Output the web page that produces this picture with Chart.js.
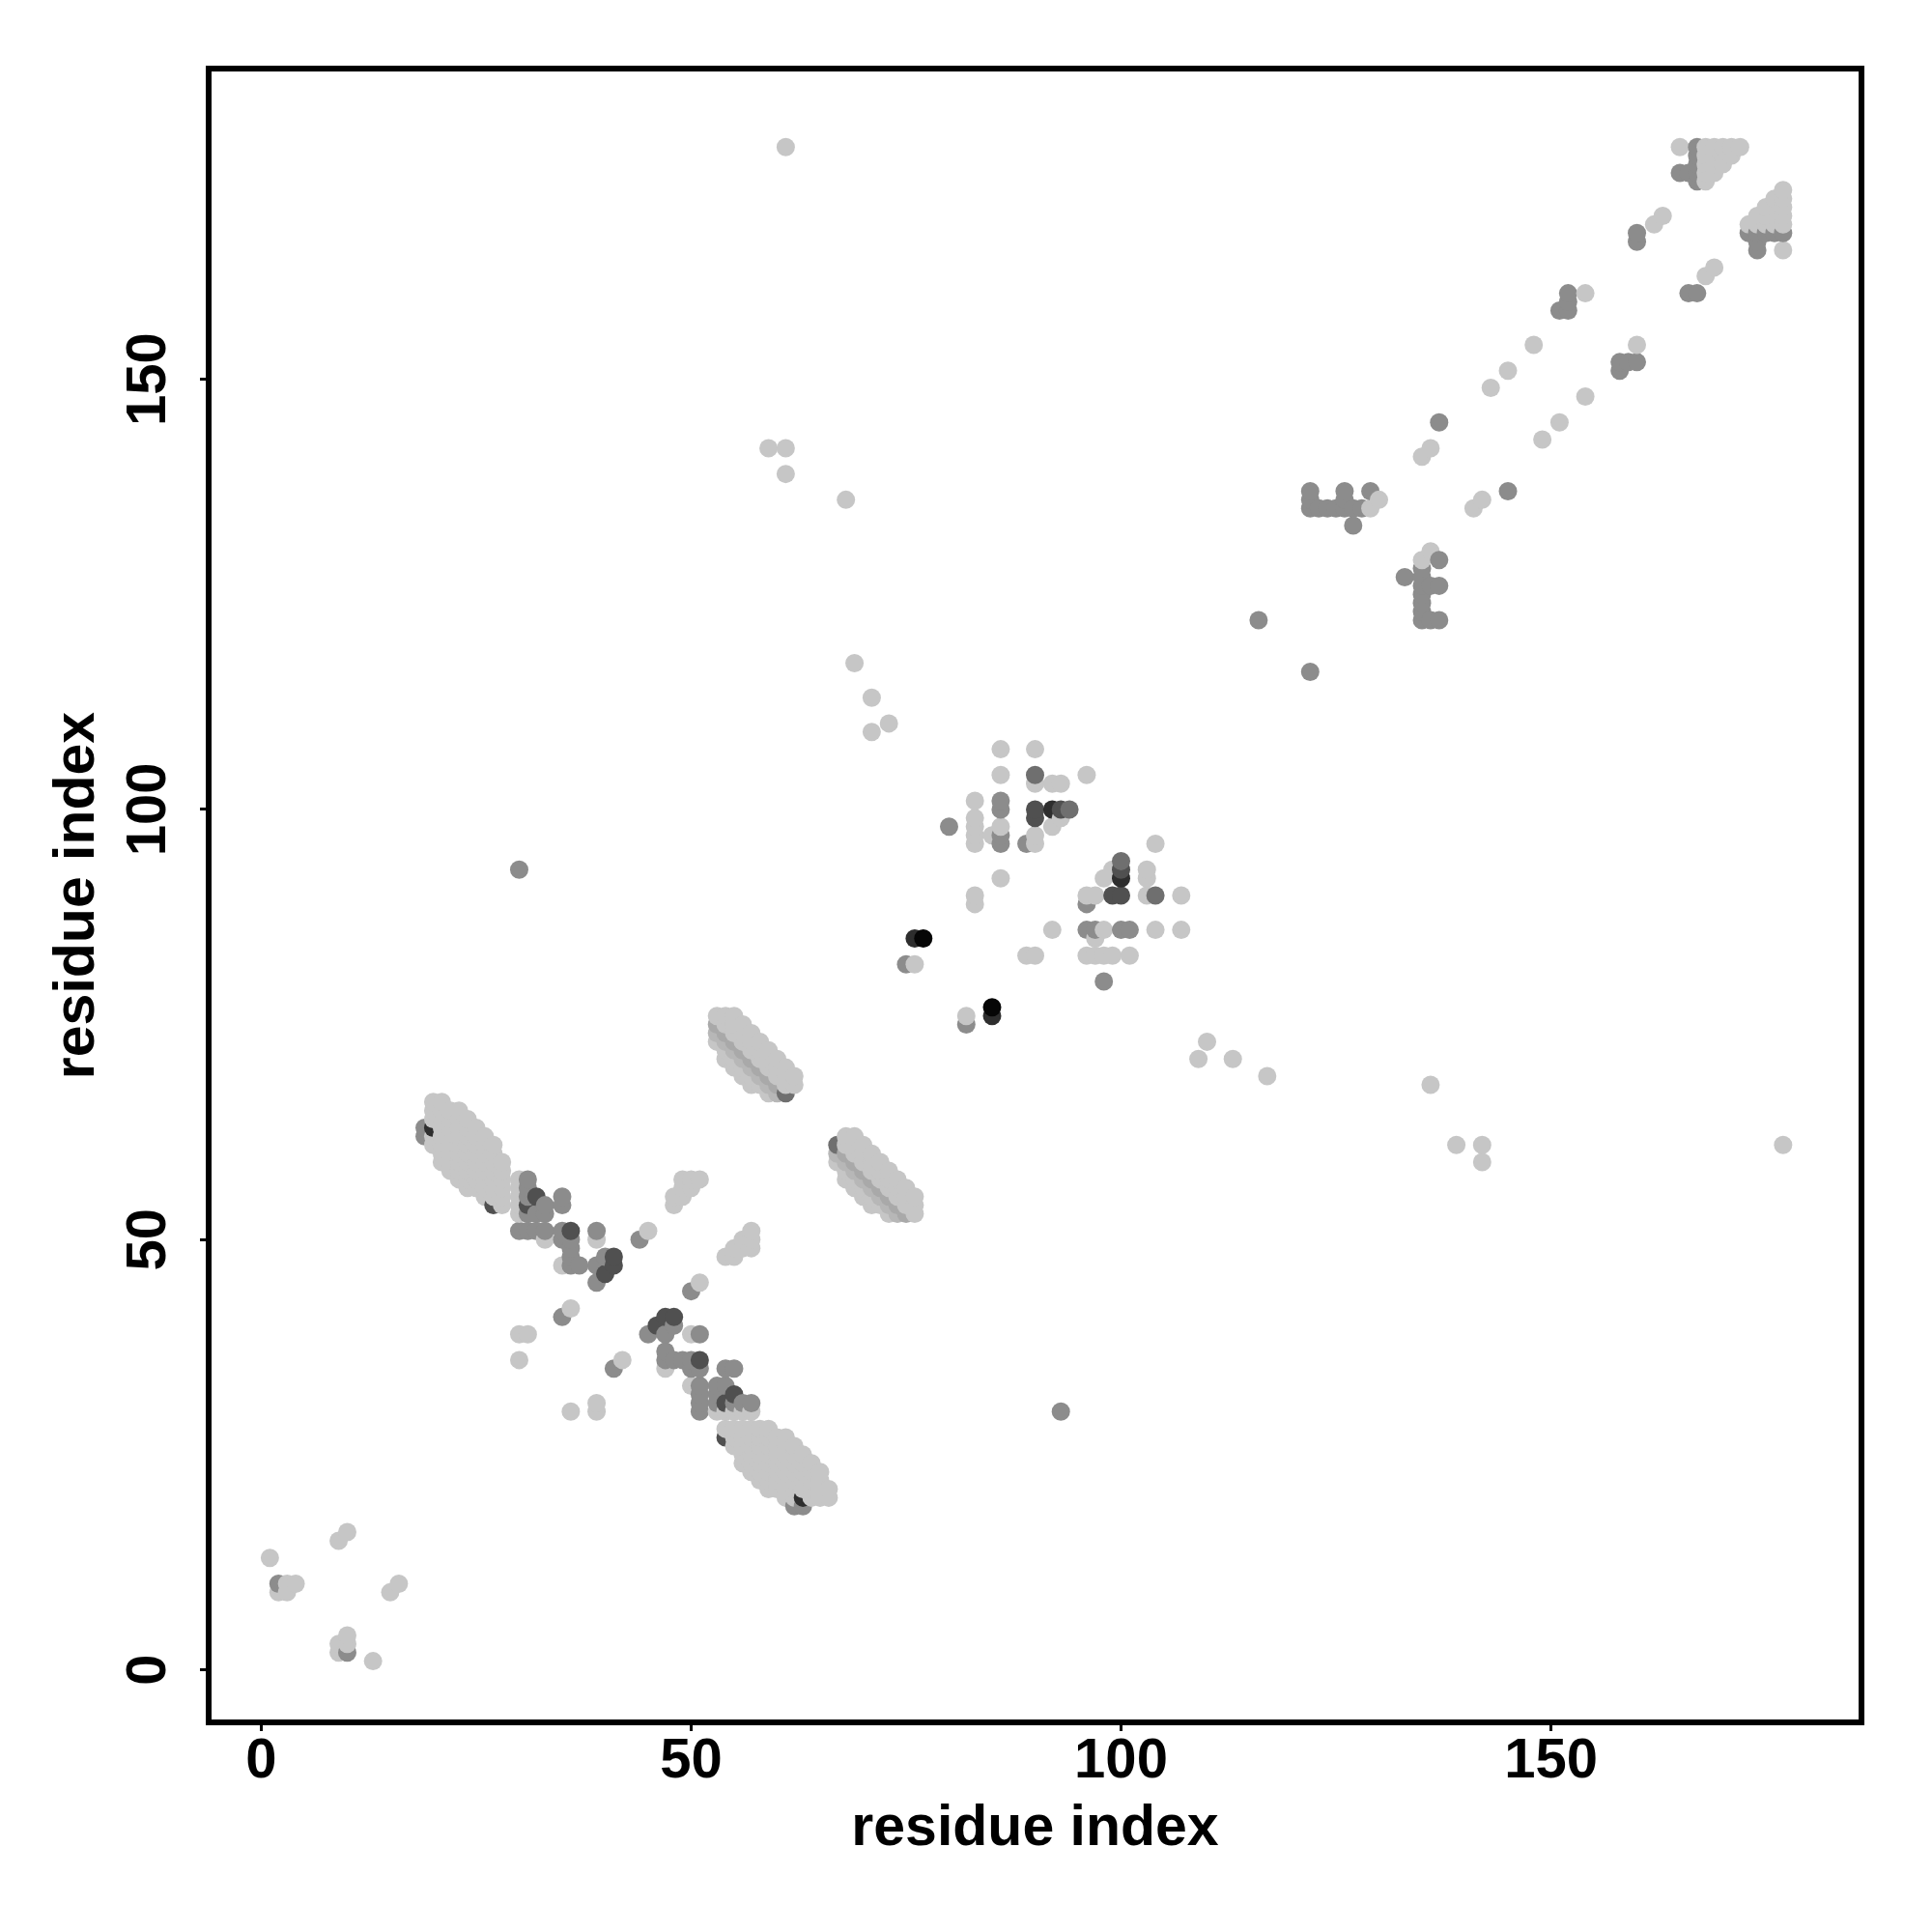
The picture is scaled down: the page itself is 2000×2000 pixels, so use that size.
<!DOCTYPE html>
<html>
<head>
<meta charset="utf-8">
<script src="https://cdn.jsdelivr.net/npm/chart.js@4.4.1/dist/chart.umd.min.js"></script>
<style>
  html, body { margin: 0; padding: 0; background: #fff; }
  canvas { display: block; }
</style>
</head>
<body>
<canvas id="contactMap" width="2000" height="2000"></canvas>
<script>
// axis ticks
const xTicks = [0, 50, 100, 150];
const yTicks = [0, 50, 100, 150];
const axisTitle = 'residue index';

// contacts, listed once as [i, j] with i < j (the map is symmetric)
const lightContacts = [
  [1, 13], [3, 10], [4, 10], [2, 9], [3, 9], [9, 15], [10, 16],
  [30, 36], [30, 39], [31, 39], [36, 42], [45, 51], [33, 50], [35, 47], [39, 50],
  [30, 53], [30, 54], [30, 55], [30, 56], [30, 57],
  [48, 54], [48, 55], [49, 55], [49, 56], [50, 56], [49, 57], [50, 57], [51, 57],
  [76, 82], [69, 117], [71, 109], [71, 113], [73, 110], [68, 136], [61, 139], [59, 142], [61, 142], [61, 177],
  [83, 89], [83, 90], [86, 92], [83, 96], [83, 97], [83, 98], [83, 99], [85, 97], [86, 98], [90, 96], [90, 97],
  [92, 98], [93, 99], [83, 101], [90, 103], [92, 103], [93, 103], [86, 104], [96, 104], [86, 107], [90, 107],
  [129, 135], [130, 136], [135, 141], [136, 142], [143, 149], [145, 151], [148, 154], [154, 160],
  [162, 168], [163, 169], [165, 177]
];

// dense blocks, one row per residue i: [i, [j...]]
const sheetARows = [
  [20, [61, 62, 64, 65, 66]],
  [21, [59, 60, 61, 62, 63, 64, 65, 66]],
  [22, [58, 59, 60, 61, 62, 63, 64, 65]],
  [23, [57, 58, 59, 60, 61, 62, 63, 64, 65]],
  [24, [56, 57, 58, 59, 60, 61, 62, 63, 64]],
  [25, [56, 57, 58, 59, 60, 61, 62, 63]],
  [26, [55, 56, 57, 58, 59, 60, 61, 62]],
  [27, [55, 56, 57, 58, 59, 60, 61]],
  [28, [54, 55, 56, 57, 58, 59]]
];
const sheetBRows = [
  [53, [73, 76]],
  [54, [71, 72, 75, 76]],
  [55, [70, 71, 74, 75, 76]],
  [56, [69, 70, 73, 74, 75]],
  [57, [68, 69, 72, 73, 74]],
  [58, [68, 71, 72, 73]],
  [59, [67, 70, 71, 72]],
  [60, [69, 70, 71]],
  [61, [68, 69, 70]],
  [62, [68, 69]]
];
const sheetCRows = [
  [168, [173, 174, 175, 176, 177]],
  [169, [174, 175, 176, 177]],
  [170, [175, 176, 177]],
  [171, [176, 177]],
  [172, [177]]
];
const sheetBCore = [[53, 75], [54, 74], [55, 73], [56, 72], [57, 71], [58, 70], [59, 69], [60, 68]];
const sheetBInner = [[53, 74], [54, 73], [55, 72], [56, 71], [57, 70], [58, 69], [59, 68], [60, 67]];

const midContacts = [
  [2, 10], [19, 62], [19, 63],
  [31, 53], [32, 53], [33, 53], [33, 54], [31, 55], [31, 56], [31, 57], [35, 54], [35, 55],
  [30, 51], [31, 51], [32, 51], [33, 51], [35, 50], [35, 51], [36, 47], [36, 48], [36, 49], [36, 50], [37, 47],
  [39, 51], [39, 45], [39, 47], [40, 48], [44, 50], [35, 41],
  [30, 93], [75, 82], [80, 98], [86, 96], [86, 97], [89, 96], [86, 100], [86, 101],
  [116, 122], [127, 133], [122, 135], [123, 135], [124, 135], [125, 135], [126, 135], [127, 135], [128, 135],
  [122, 136], [126, 136], [122, 137], [126, 137], [129, 137], [137, 145],
  [151, 158], [152, 158], [152, 159], [152, 160], [160, 166], [160, 167],
  [165, 174], [166, 174], [167, 173], [167, 174], [167, 175], [167, 176], [167, 177]
];
const midDarkContacts = [[61, 67], [90, 104], [94, 100]];
const darkContacts = [[27, 54], [31, 54], [32, 55], [36, 51], [40, 46], [41, 47], [41, 48], [90, 99], [90, 100], [93, 100]];
const darkerContacts = [[20, 63], [76, 85], [92, 100]];
const blackContacts = [[77, 85]];

const shades = {
  light: '#c6c6c6', lightCore: '#a9a9a9', lightInner: '#b7b7b7',
  mid: '#8c8c8c', midDark: '#6f6f6f', dark: '#505050', darker: '#2e2e2e', black: '#060606'
};
const FONT = '"Liberation Sans", Arial, Helvetica, sans-serif';

function rowsToPairs(rows) {
  const out = [];
  rows.forEach(([i, js]) => js.forEach((j) => out.push([i, j])));
  return out;
}

const points = [];
function addContacts(pairs, shade) {
  pairs.forEach(([i, j]) => {
    points.push({ x: i, y: j, c: shade });
    points.push({ x: j, y: i, c: shade });
  });
}
addContacts(lightContacts, shades.light);
addContacts(rowsToPairs(sheetARows), shades.light);
addContacts(rowsToPairs(sheetBRows), shades.light);
addContacts(rowsToPairs(sheetCRows), shades.light);
addContacts(sheetBCore, shades.lightCore);
addContacts(sheetBInner, shades.lightInner);
addContacts(midContacts, shades.mid);
addContacts(midDarkContacts, shades.midDark);
addContacts(darkContacts, shades.dark);
addContacts(darkerContacts, shades.darker);
addContacts(blackContacts, shades.black);
// drawn in residue order, like the original plot
points.sort((a, b) => a.x - b.x || a.y - b.y);

const frame = {
  id: 'frame',
  afterDraw(chart) {
    const { ctx, chartArea: a } = chart;
    ctx.save();
    ctx.strokeStyle = '#000';
    ctx.lineWidth = 6;
    ctx.strokeRect(a.left, a.top, a.right - a.left, a.bottom - a.top);

    // y tick labels, rotated like the original
    const ys = chart.scales.y;
    ctx.fillStyle = '#000';
    ctx.font = `bold 58px ${FONT}`;
    ctx.textAlign = 'center';
    ctx.textBaseline = 'alphabetic';
    ys.ticks.forEach((t) => {
      ctx.save();
      ctx.translate(171, ys.getPixelForValue(t.value));
      ctx.rotate(-Math.PI / 2);
      ctx.fillText(String(t.value), 0, 0);
      ctx.restore();
    });
    ctx.restore();
  }
};

const tickGrid = { display: true, drawOnChartArea: false, drawTicks: true, tickLength: 9, lineWidth: 3, tickWidth: 3, color: '#000', tickColor: '#000' };

new Chart(document.getElementById('contactMap'), {
  type: 'scatter',
  data: {
    datasets: [{
      data: points,
      pointRadius: 9.5,
      pointHoverRadius: 9.5,
      pointBorderWidth: 0,
      pointBackgroundColor: (c) => (c.raw ? c.raw.c : '#000')
    }]
  },
  options: {
    responsive: false,
    animation: false,
    devicePixelRatio: 1,
    events: [],
    layout: { padding: { top: 71, right: 73, left: 0, bottom: 0 } },
    plugins: { legend: { display: false }, tooltip: { enabled: false } },
    scales: {
      x: {
        type: 'linear', min: -6.12, max: 186.12,
        afterBuildTicks: (s) => { s.ticks = xTicks.map((v) => ({ value: v })); },
        afterFit: (s) => { s.height = 217; },
        grid: tickGrid,
        border: { display: false },
        ticks: { color: '#000', padding: -3, maxRotation: 0, autoSkip: false, font: { family: FONT, size: 58, weight: 'bold' } },
        title: { display: true, text: axisTitle, color: '#000', font: { family: FONT, size: 59, weight: 'bold' }, padding: { top: 0, bottom: 71 } }
      },
      y: {
        type: 'linear', min: -6.12, max: 186.12,
        afterBuildTicks: (s) => { s.ticks = yTicks.map((v) => ({ value: v })); },
        afterFit: (s) => { s.width = 216; },
        grid: tickGrid,
        border: { display: false },
        ticks: { display: false },
        title: { display: true, text: axisTitle, color: '#000', font: { family: FONT, size: 59, weight: 'bold' }, padding: { top: 45, bottom: 0 } }
      }
    }
  },
  plugins: [frame]
});
</script>
</body>
</html>
